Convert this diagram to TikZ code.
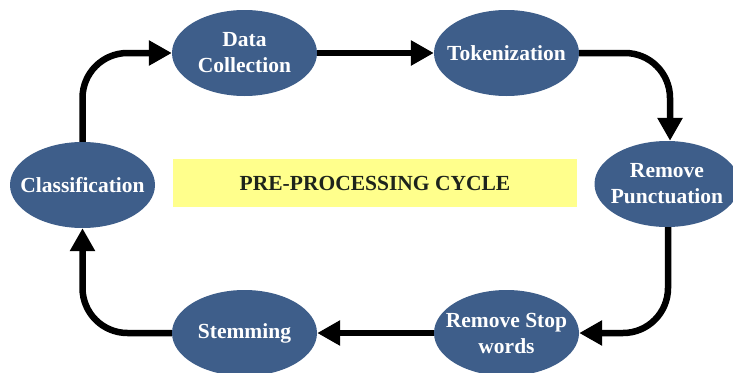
\documentclass[tikz,border=0pt]{standalone}
\usepackage{fontspec}
\setmainfont{Liberation Serif}
\usetikzlibrary{shapes.geometric,arrows.meta}
\definecolor{stagefill}{RGB}{62,94,138}
\definecolor{bannerfill}{RGB}{255,255,140}
\definecolor{bannertext}{RGB}{30,36,28}
\begin{document}
\begin{tikzpicture}[x=1pt,y=-1pt,
  stage/.style={ellipse, fill=stagefill, draw=none, minimum width=145pt, minimum height=86pt,
    inner sep=0pt},
  stagetext/.style={text=white, align=center, inner sep=0pt,
    font=\fontsize{21.5}{26}\selectfont\bfseries},
  banner/.style={rectangle, fill=bannerfill, draw=none, minimum width=404pt, minimum height=48pt,
    inner sep=0pt, text=bannertext, font=\fontsize{21.5}{26}\selectfont\bfseries},
  flow/.style={line width=6.5pt, black, rounded corners=45pt,
    -{Triangle[length=23pt,width=24pt]}}]
  \useasboundingbox (0,0) rectangle (733,372);
  \begin{scope}
    \clip (0,0) rectangle (733,372);
    % process stages
    \node[stage, label={[stagetext]center:{Data\\Collection}}]   (dc)  at (244.5,53)  {};
    \node[stage, label={[stagetext]center:{Tokenization}}]       (tok) at (506.5,53)  {};
    \node[stage, label={[stagetext]center:{Remove\\Punctuation}}] (rp) at (667,184)   {};
    \node[stage, label={[stagetext]center:{Remove Stop\\words}}] (rsw) at (506.5,333) {};
    \node[stage, label={[stagetext]center:{Stemming}}]           (stm) at (244.5,333) {};
    \node[stage, label={[stagetext]center:{Classification}}]     (cls) at (82.5,185)  {};
    % title banner
    \node[banner] (title) at (375,183) {PRE-PROCESSING CYCLE};
    % cycle connectors
    \draw[flow] (cls.north) |- (dc.west);
    \draw[flow] (dc.east) -- (tok.west);
    \draw[flow] (tok.east) -| ([xshift=3pt]rp.north);
    \draw[flow] ([xshift=1pt]rp.south) |- (rsw.east);
    \draw[flow] (rsw.west) -- (stm.east);
    \draw[flow] (stm.west) -| (cls.south);
  \end{scope}
\end{tikzpicture}
\end{document}
